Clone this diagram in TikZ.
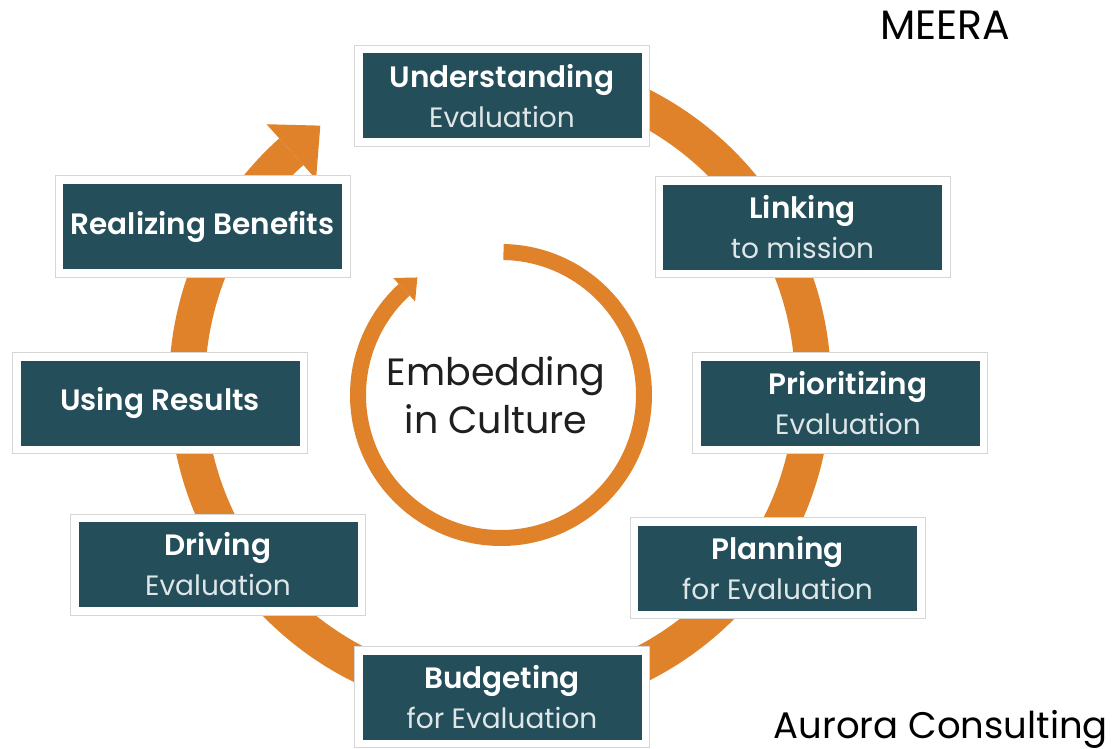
\documentclass[tikz,border=0pt]{standalone}
\usepackage{fontspec}
\setmainfont{Poppins}[BoldFont={Poppins SemiBold}]
\usetikzlibrary{arrows.meta}
\definecolor{stageteal}{RGB}{35,78,90}
\definecolor{ringorange}{RGB}{224,130,41}
\definecolor{framegray}{RGB}{214,214,214}
\definecolor{sublight}{RGB}{222,230,232}
\newcommand{\firstline}[1]{{\fontsize{29.5}{40}\selectfont\bfseries #1}}
\newcommand{\secondline}[1]{{\color{sublight}#1}}
\begin{document}
\begin{tikzpicture}[x=1pt,y=1pt,
  stage/.style={fill=stageteal, text=white, minimum width=279pt, minimum height=85pt,
    inner sep=0pt, align=center, font=\fontsize{28}{40}\selectfont,
    preaction={draw=framegray, line width=17pt},
    preaction={draw=white, line width=15pt}},
  ring/.style={draw=ringorange, line width=36pt},
  innerring/.style={draw=ringorange, line width=16pt}]
\useasboundingbox (0,0) rectangle (1114,-749);

% centres of the two cycles
\coordinate (hub) at (500,-385);
\coordinate (core) at (501,-395);

% outer cycle arrow
\draw[ring, -{Triangle[length=39pt,width=74pt,line width=0pt]}]
  ([shift={(95:313)}]hub) arc[start angle=95, end angle=-228, radius=313pt] -- ++(42:40);

% inner cycle arrow
\draw[innerring, -{Triangle[length=18pt,width=32pt,line width=0pt]}]
  ([shift={(89:143)}]core) arc[start angle=89, end angle=-227, radius=143pt] -- ++(43:19);

% stages
\node[stage] (understanding) at (502,-96) {\firstline{Understanding}\\ \secondline{Evaluation}};
\node[stage] (linking) at (802.5,-227) {\firstline{Linking}\\ \secondline{to mission}};
\node[stage] (prioritizing) at (840,-403) {\hspace*{16pt}\firstline{Prioritizing}\\ \hspace*{16pt}\secondline{Evaluation}};
\node[stage] (planning) at (777.5,-568) {\firstline{Planning}\\ \secondline{for Evaluation}};
\node[stage] (budgeting) at (502,-697) {\firstline{Budgeting}\\ \secondline{for Evaluation}};
\node[stage] (driving) at (218,-564.5) {\firstline{Driving}\\ \secondline{Evaluation}};
\node[stage] (using) at (160,-403) {\firstline{Using Results}};
\node[stage] (realizing) at (202.5,-226.5) {\firstline{Realizing Benefits}};

% centre label
\node[font=\fontsize{38}{48}\selectfont, text=black!88, align=center] (culture) at (496,-395) {Embedding\\in Culture};

% corner labels
\node[font=\fontsize{41}{41}\selectfont, anchor=base] (meera) at (945,-40) {MEERA};
\node[font=\fontsize{37}{37}\selectfont, anchor=base east, inner sep=0pt] (aurora) at (1108,-738) {Aurora Consulting};
\end{tikzpicture}
\end{document}
